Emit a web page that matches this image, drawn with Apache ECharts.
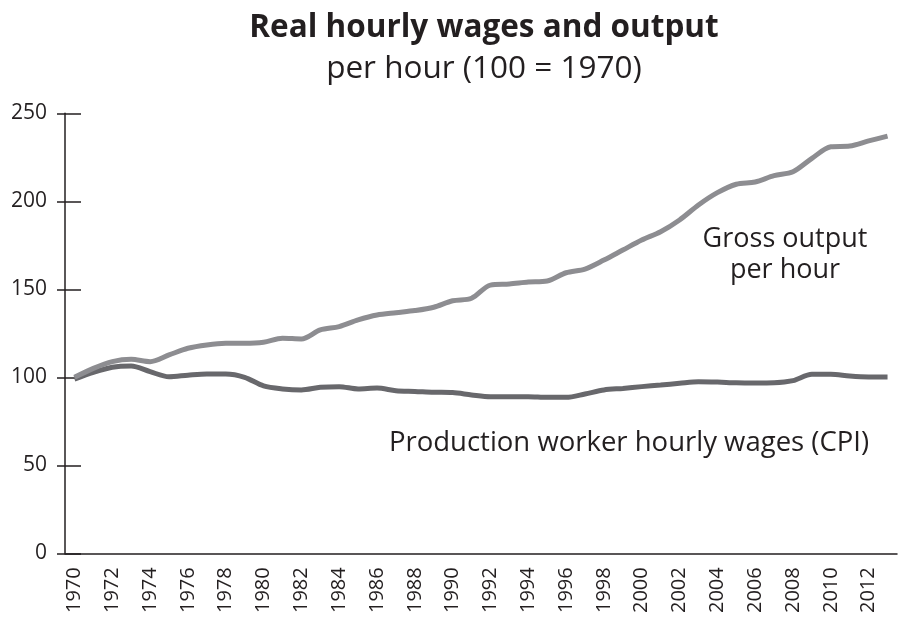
<!DOCTYPE html>
<html>
<head>
<meta charset="utf-8">
<script src="https://cdn.jsdelivr.net/npm/echarts@6/dist/echarts.min.js"></script>
<style>
  html, body { margin: 0; padding: 0; background: #fff; }
  #chart { width: 898px; height: 618px; }
</style>
</head>
<body>
<div id="chart"></div>
<script>
  var years = []
  for (var y = 1970; y <= 2013; y++) years.push(String(y))

  // gross output per hour (100 = 1970)
  var grossOutput = [100, 105.1, 108.9, 110.2, 108.9, 112.7, 116.5, 118.4, 119.3, 119.3,
    119.9, 122.2, 121.8, 126.9, 128.8, 132.6, 135.4, 136.7, 137.9, 139.8,
    143.5, 144.9, 152.4, 153, 154.1, 154.7, 159.4, 161.5, 166.6, 172.3,
    178, 182.7, 189.4, 197.9, 204.9, 209.7, 211, 214.6, 216.8, 224.4,
    231, 231.4, 234.3, 237]

  // production worker hourly wages, CPI deflated
  var wages = [99, 102.8, 105.7, 106.4, 103.2, 100.3, 101.2, 101.9, 101.9, 100,
    95.1, 93.4, 92.8, 94.3, 94.7, 93.4, 93.9, 92.4, 92, 91.5,
    91.3, 90, 89, 89, 89, 88.6, 88.6, 90.5, 92.8, 93.7,
    94.7, 95.6, 96.6, 97.5, 97.3, 96.9, 96.8, 96.9, 98.1, 101.7,
    101.7, 100.7, 100.2, 100.2]

  var chart = echarts.init(document.getElementById('chart'))
  var ink = '#231f20'
  var font = 'Open Sans'

  var option = {
    animation: false,
    title: [
      {
        text: 'Real hourly wages and output',
        left: 479, top: 7, textAlign: 'center',
        textStyle: {fontFamily: font, fontWeight: 'bold', fontSize: 31.5, color: ink}
      },
      {
        text: 'per hour (100 = 1970)',
        left: 479, top: 48, textAlign: 'center',
        textStyle: {fontFamily: font, fontWeight: 'normal', fontSize: 31.5, color: ink}
      }
    ],
    grid: {left: 65, right: 1, top: 113.3, bottom: 64.7},
    xAxis: [
      {
        type: 'category',
        data: years,
        boundaryGap: true,
        axisLine: {lineStyle: {color: ink, width: 1.5}},
        axisTick: {interval: 0, length: 7, lineStyle: {color: ink, width: 1.5}},
        axisLabel: {interval: 1, rotate: 90, margin: 14, fontSize: 20, fontFamily: font, color: ink}
      },
      {
        type: 'category',
        data: years,
        boundaryGap: true,
        position: 'bottom',
        axisLine: {show: false},
        axisTick: {interval: 1, inside: true, length: 11, lineStyle: {color: ink, width: 1.5}},
        axisLabel: {show: false}
      }
    ],
    yAxis: [
      {
        type: 'value',
        min: 0, max: 250, interval: 50,
        axisLine: {show: true, lineStyle: {color: ink, width: 1.5}},
        axisTick: {show: true, length: 8, lineStyle: {color: ink, width: 1.5}},
        splitLine: {show: false},
        axisLabel: {margin: 18, fontSize: 21, fontFamily: font, color: ink}
      },
      {
        type: 'value',
        min: 0, max: 250, interval: 50,
        position: 'left',
        axisLine: {show: false},
        axisTick: {show: true, inside: true, length: 16, lineStyle: {color: ink, width: 1.5}},
        splitLine: {show: false},
        axisLabel: {show: false}
      }
    ],
    series: [
      {
        name: 'Production worker hourly wages (CPI)',
        type: 'line',
        data: wages,
        smooth: 0.3,
        showSymbol: false,
        lineStyle: {color: '#68686c', width: 5}
      },
      {
        name: 'Gross output per hour',
        type: 'line',
        data: grossOutput,
        smooth: 0.3,
        showSymbol: false,
        lineStyle: {color: '#8d8d91', width: 5}
      }
    ],
    graphic: [
      {
        type: 'text',
        style: {
          text: 'Gross output\nper hour', x: 785, y: 224, align: 'center',
          fontFamily: font, fontSize: 27, lineHeight: 31, fill: ink
        }
      },
      {
        type: 'text',
        style: {
          text: 'Production worker hourly wages (CPI)', x: 629, y: 429, align: 'center',
          fontFamily: font, fontSize: 27.5, fill: ink
        }
      }
    ]
  }

  chart.setOption(option)
</script>
</body>
</html>
